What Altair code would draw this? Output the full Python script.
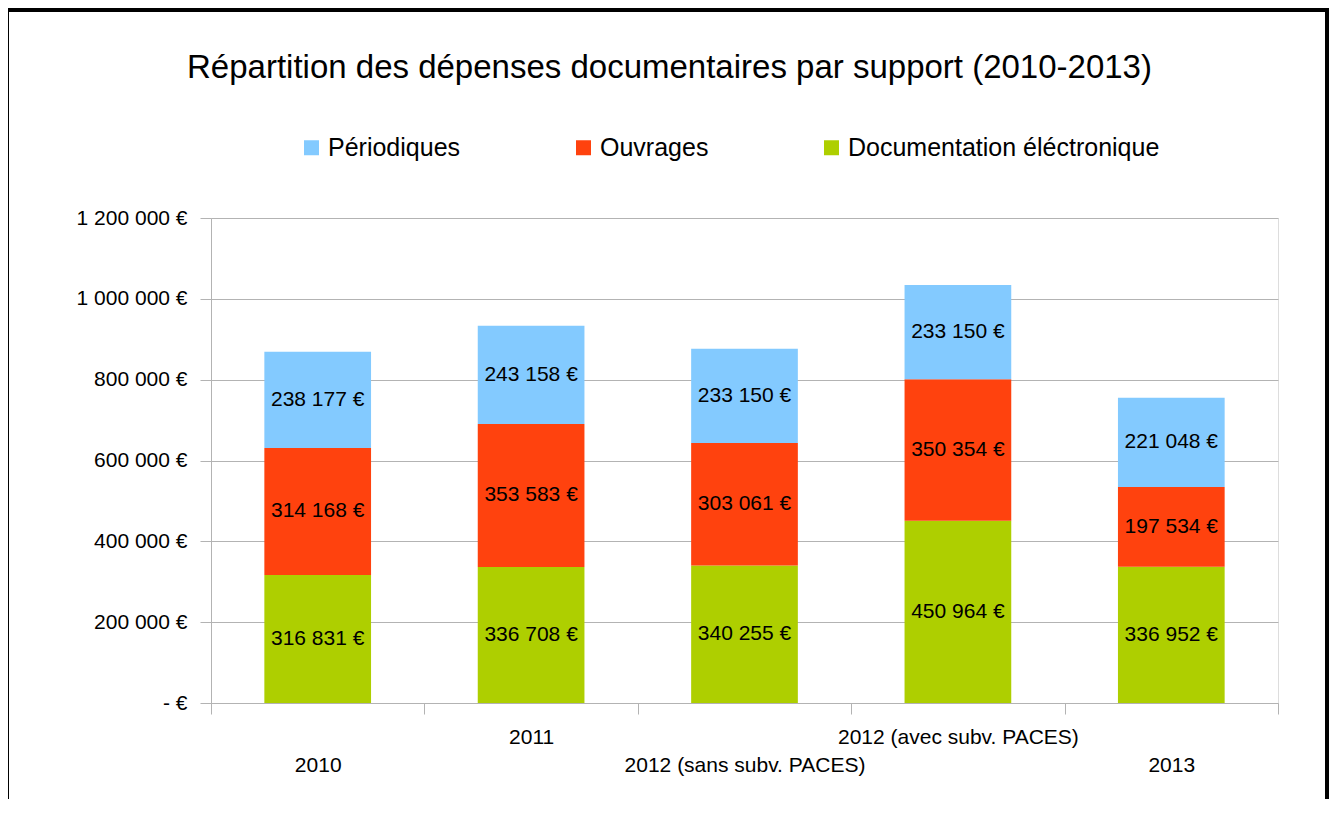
import altair as alt
import pandas as pd

categories = ["2010", "2011", "2012 (sans subv. PACES)", "2012 (avec subv. PACES)", "2013"]
series = ["Périodiques", "Ouvrages", "Documentation éléctronique"]
periodiques = [238177, 243158, 233150, 233150, 221048]
ouvrages = [314168, 353583, 303061, 350354, 197534]
documentation = [316831, 336708, 340255, 450964, 336952]
colors = ["#83CAFF", "#FF420E", "#AECF00"]
upper_labels = ["2011", "2012 (avec subv. PACES)"]

rows = []
for i, cat in enumerate(categories):
    base = 0
    for order, (name, vals) in enumerate([
        ("Documentation éléctronique", documentation),
        ("Ouvrages", ouvrages),
        ("Périodiques", periodiques),
    ]):
        v = vals[i]
        rows.append({
            "annee": cat,
            "support": name,
            "valeur": v,
            "ordre": order,
            "milieu": base + v / 2,
            "texte": f"{v:,}".replace(",", " ") + " €",
        })
        base += v
df = pd.DataFrame(rows)

FONT = "Liberation Sans"
W, H = 1067, 485

x_enc = alt.X(
    "annee:N",
    sort=categories,
    title=None,
    scale=alt.Scale(paddingInner=0, paddingOuter=0),
    axis=alt.Axis(
        labelAngle=0,
        tickBand="extent",
        tickSize=11,
        tickColor="#b3b3b3",
        domainColor="#b3b3b3",
        labelFontSize=21,
        labelFont=FONT,
        labelColor="black",
        labelPadding=12,
        labelBaseline="top",
        labelLineHeight=28,
        labelLimit=0,
        labelExpr="indexof(" + str(upper_labels) + ", datum.label) >= 0 ? [datum.label] : ['', datum.label]",
        grid=False,
    ),
)

bars = alt.Chart(df).mark_bar(stroke=None, width=alt.RelativeBandSize(0.5)).encode(
    x=x_enc,
    y=alt.Y(
        "valeur:Q",
        stack="zero",
        title=None,
        scale=alt.Scale(domain=[0, 1200000]),
        axis=alt.Axis(
            values=[0, 200000, 400000, 600000, 800000, 1000000, 1200000],
            tickSize=11,
            tickColor="#b3b3b3",
            domainColor="#b3b3b3",
            gridColor="#b3b3b3",
            labelFontSize=21,
            labelFont=FONT,
            labelColor="black",
            labelPadding=13,
            labelExpr="datum.value == 0 ? '- €' : replace(format(datum.value, ',d'), regexp(',', 'g'), ' ') + ' €'",
        ),
    ),
    color=alt.Color(
        "support:N",
        scale=alt.Scale(domain=series, range=colors),
        legend=alt.Legend(
            title=None,
            orient="none",
            direction="horizontal",
            legendX=88,
            legendY=-83,
            symbolType="square",
            symbolSize=225,
            symbolStrokeWidth=0,
            symbolOpacity=1,
            labelFontSize=25,
            labelFont=FONT,
            labelColor="black",
            labelOffset=4,
            labelLimit=0,
            columnPadding=110,
            padding=0,
        ),
    ),
    order=alt.Order("ordre:Q", sort="ascending"),
)

labels = alt.Chart(df).mark_text(fontSize=21, font=FONT, color="black", baseline="middle").encode(
    x=alt.X("annee:N", sort=categories),
    y=alt.Y("milieu:Q"),
    text="texte:N",
)

frame = alt.Chart(alt.Data(values=[{"f": 1}])).mark_rect(
    filled=False, stroke="black", strokeWidth=4, clip=False
).encode(
    x=alt.value(-204),
    x2=alt.value(1116),
    y=alt.value(-208),
    y2=alt.value(700),
)

chart = alt.layer(frame, bars, labels).properties(
    width=W,
    height=H,
    padding={"left": 203, "top": 210, "right": 51, "bottom": 96},
    autosize=alt.AutoSizeParams(type="none"),
    title=alt.TitleParams(
        "Répartition des dépenses documentaires par support (2010-2013)",
        font=FONT,
        fontSize=33,
        fontWeight="normal",
        color="black",
        anchor="middle",
        frame="group",
        dx=-75,
        baseline="alphabetic",
        offset=-103,
    ),
).configure_view(stroke=None).configure(background="white")

chart.save("out.html", embed_options={"renderer": "svg", "actions": False})
